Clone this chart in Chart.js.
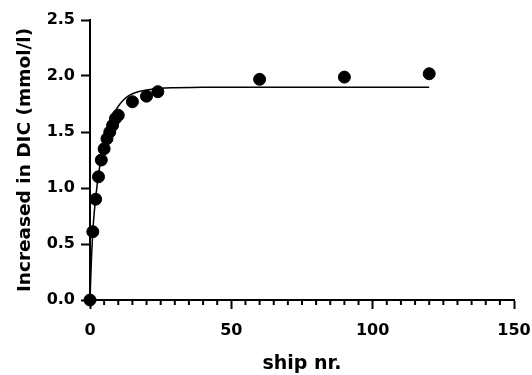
<!DOCTYPE html>
<html>
<head>
<meta charset="utf-8">
<script src="https://cdn.jsdelivr.net/npm/chart.js@4"></script>
<style>
  html,body{margin:0;padding:0;background:#fff;}
  #wrap{width:532px;height:375px;position:relative;}
</style>
</head>
<body>
<div id="wrap"><canvas id="c" width="532" height="375"></canvas></div>
<script>
// Measured data points
const shipNr   = [0, 1, 2, 3, 4, 5, 6, 7, 8, 9, 10, 15, 20, 24, 60, 90, 120];
const dicValue = [0, 0.61, 0.90, 1.10, 1.25, 1.35, 1.44, 1.50, 1.56, 1.62, 1.65, 1.77, 1.82, 1.86, 1.97, 1.99, 2.02];
// Fitted curve
const fitX = [0, 0.3, 0.6, 1, 1.5, 2, 3, 4, 5, 6, 7, 8, 10, 12, 14, 17, 20, 25, 30, 40, 60, 90, 120];
const fitY = [0, 0.22, 0.42, 0.62, 0.78, 0.91, 1.12, 1.28, 1.41, 1.51, 1.58, 1.64, 1.73, 1.79, 1.83, 1.86, 1.875, 1.89, 1.895, 1.90, 1.90, 1.90, 1.90];
const xTicks = [0, 50, 100, 150];
const xMinorStep = 5;
const yTicks = [0, 0.5, 1.0, 1.5, 2.0, 2.5];
const xTitle = 'ship nr.';
const yTitle = 'Increased in DIC (mmol/l)';

const FONT = '"DejaVu Sans", Verdana, sans-serif';

const minorTicks = {
  id: 'minorTicks',
  afterDraw(chart) {
    const xs = chart.scales.x;
    const ctx = chart.ctx;
    ctx.save();
    ctx.strokeStyle = '#000';
    ctx.lineWidth = 2;
    const y0 = chart.chartArea.bottom;
    for (let v = xs.min + xMinorStep; v < xs.max; v += xMinorStep) {
      if (xTicks.includes(v)) continue;
      const px = xs.getPixelForValue(v);
      ctx.beginPath();
      ctx.moveTo(px, y0);
      ctx.lineTo(px, y0 + 5);
      ctx.stroke();
    }
    ctx.restore();
  }
};

new Chart(document.getElementById('c'), {
  type: 'scatter',
  data: {
    datasets: [
      {
        type: 'line',
        data: fitX.map((x, i) => ({x, y: fitY[i]})),
        borderColor: '#000',
        borderWidth: 1.5,
        pointRadius: 0,
        cubicInterpolationMode: 'monotone',
        fill: false,
        clip: false,
        order: 2
      },
      {
        data: shipNr.map((x, i) => ({x, y: dicValue[i]})),
        backgroundColor: '#000',
        borderColor: '#000',
        pointRadius: 6,
        pointHoverRadius: 6,
        clip: false,
        order: 1
      }
    ]
  },
  options: {
    responsive: false,
    animation: false,
    events: [],
    layout: { padding: { top: 20, right: 18, left: 0, bottom: 0 } },
    plugins: { legend: { display: false }, tooltip: { enabled: false } },
    scales: {
      x: {
        type: 'linear',
        min: 0, max: 150,
        afterBuildTicks: s => { s.ticks = xTicks.map(v => ({value: v})); },
        afterFit: s => { s.height = 75; s.paddingLeft = 0; s.paddingRight = 0; },
        border: { display: true, color: '#000', width: 2 },
        grid: { display: true, drawOnChartArea: false, drawTicks: true, tickLength: 9, tickWidth: 2, tickColor: '#000', color: '#000' },
        ticks: { color: '#000', font: { family: FONT, size: 16, weight: 'bold' }, padding: 12, maxRotation: 0 },
        title: { display: true, text: xTitle, color: '#000', font: { family: FONT, size: 19, weight: 'bold' }, padding: { top: 4, bottom: 0 } }
      },
      y: {
        type: 'linear',
        min: 0, max: 2.5,
        afterBuildTicks: s => { s.ticks = yTicks.map(v => ({value: v})); },
        afterFit: s => { s.width = 90; s.paddingTop = 0; s.paddingBottom = 0; },
        border: { display: true, color: '#000', width: 2 },
        grid: { display: true, drawOnChartArea: false, drawTicks: true, tickLength: 9, tickWidth: 2, tickColor: '#000', color: '#000' },
        ticks: { color: '#000', font: { family: FONT, size: 16, weight: 'bold' }, padding: 6, callback: v => Number(v).toFixed(1) },
        title: { display: true, text: yTitle, color: '#000', font: { family: FONT, size: 18.5, weight: 'bold' }, padding: { top: 14, bottom: 4 } }
      }
    }
  },
  plugins: [minorTicks]
});
</script>
</body>
</html>
